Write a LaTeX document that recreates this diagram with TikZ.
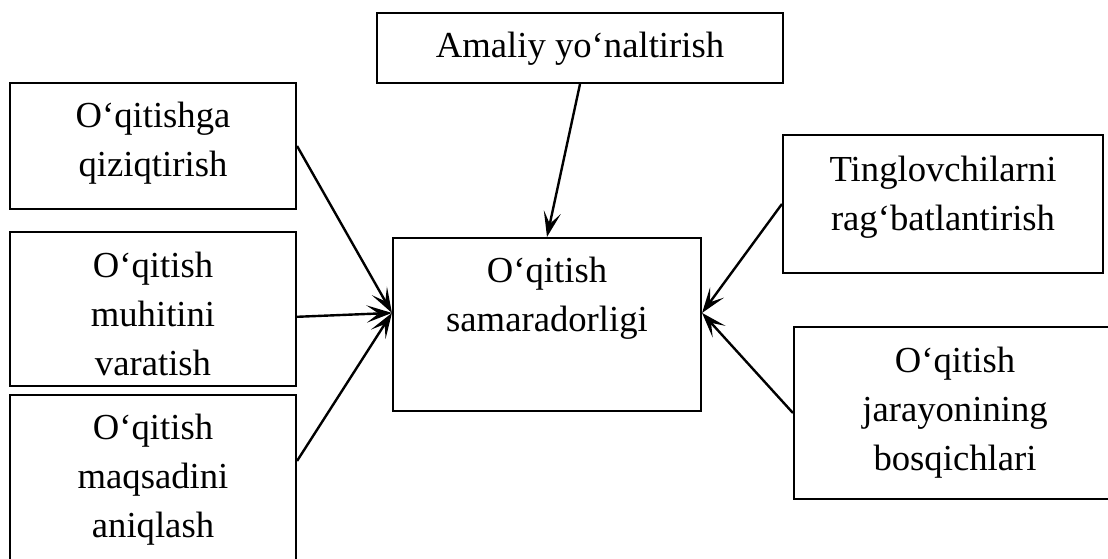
\documentclass[tikz,border=0pt]{standalone}
\usepackage{fontspec}
\setmainfont{Liberation Serif}
\usetikzlibrary{arrows.meta,calc}
\begin{document}
\begin{tikzpicture}[x=0.75pt,y=-0.75pt,
  box/.style={draw,line width=1.6pt,inner sep=0pt,rectangle},
  lbl/.style={anchor=north,align=center,inner sep=0pt,
    font=\fontsize{27.5pt}{36.6pt}\selectfont},
  link/.style={line width=1.8pt,-{Stealth[length=19pt,width=13pt,inset=9pt]}}]
\useasboundingbox (0,0) rectangle (1108,559);
\clip (0,0) rectangle (1108,559);

% frames
\node[box,minimum width=304.5pt,minimum height=52.5pt]  (amal) at (580,48)    {};
\node[box,minimum width=214.5pt,minimum height=94.5pt]  (q1)   at (153,146)   {};
\node[box,minimum width=214.5pt,minimum height=115.5pt] (q2)   at (153,309)   {};
\node[box,minimum width=214.5pt,minimum height=131.25pt](q3)   at (153,482.5) {};
\node[box,minimum width=231pt,minimum height=129.75pt]  (c)    at (547,324.5) {};
\node[box,minimum width=240pt,minimum height=103.5pt]   (t)    at (943,204)   {};
\node[box,minimum width=241.5pt,minimum height=129pt]   (b)    at (955,413)   {};

% labels
\node[lbl] (amaltxt) at ($(amal.north)+(0,20)$) {Amaliy yo‘naltirish};
\node[lbl] (q1txt) at ($(q1.north)+(0,20)$) {O‘qitishga\\qiziqtirish};
\node[lbl] (q2txt) at ($(q2.north)+(0,21)$) {O‘qitish\\muhitini\\varatish};
\node[lbl] (q3txt) at ($(q3.north)+(0,20)$) {O‘qitish\\maqsadini\\aniqlash};
\node[lbl] (ctxt)  at ($(c.north)+(0,20)$)  {O‘qitish\\samaradorligi};
\node[lbl] (ttxt)  at ($(t.north)+(0,22)$)  {Tinglovchilarni\\rag‘batlantirish};
\node[lbl] (btxt)  at ($(b.north)+(0,21)$)  {O‘qitish\\jarayonining\\bosqichlari};

% arrows into the central box
\coordinate (cin-l) at ($(c.north west)!0.434!(c.south west)$);
\coordinate (cin-r) at ($(c.north east)!0.434!(c.south east)$);
\draw[link] (q1.east) -- (cin-l);
\draw[link] ($(q2.north east)!0.55!(q2.south east)$) -- (cin-l);
\draw[link] ($(q3.north east)+(0,67)$) -- (cin-l);
\draw[link] (amal.south) -- (c.north);
\draw[link] (t.west) -- (cin-r);
\draw[link] (b.west) -- (cin-r);
\end{tikzpicture}
\end{document}
